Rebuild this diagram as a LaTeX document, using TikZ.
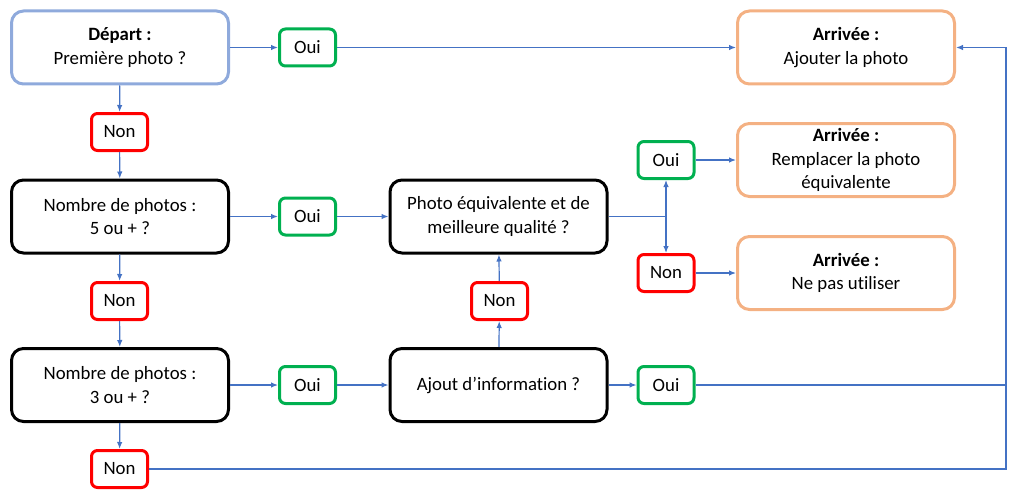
\documentclass[tikz,border=0pt]{standalone}
\usepackage{fontspec}
\setmainfont{Carlito}[Ligatures=NoCommon]
\usetikzlibrary{arrows.meta}
\definecolor{lblue}{HTML}{8FAADC}
\definecolor{conn}{HTML}{4472C4}
\definecolor{ogreen}{HTML}{00B050}
\definecolor{ored}{HTML}{FF0000}
\definecolor{orng}{HTML}{F4B183}
\begin{document}
\begin{tikzpicture}[x=1pt,y=-1pt,
  box/.style={draw, line width=3pt, rounded corners=12pt, minimum width=217pt, minimum height=73pt, align=center, inner sep=0pt, font=\fontsize{18.8}{23.5}\selectfont},
  startbox/.style={box, draw=lblue},
  qbox/.style={box, draw=black},
  endbox/.style={box, draw=orng},
  small/.style={draw, line width=3pt, rounded corners=6pt, minimum width=56pt, minimum height=37pt, inner sep=0pt, font=\fontsize{18.8}{23.5}\selectfont},
  yes/.style={small, draw=ogreen},
  no/.style={small, draw=ored},
  plain/.style={draw=conn, line width=1.2pt},
  arr/.style={plain, -{Latex[length=7pt,width=5.5pt]}}
]
\useasboundingbox (0,0) rectangle (1010,495);
\node[startbox] (dep) at (120,47.5) {\textbf{Départ :}\\Première photo ?};
\node[yes] (oui1) at (307.5,47.5) {Oui};
\node[endbox] (arr1) at (846,47.5) {\textbf{Arrivée :}\\Ajouter la photo};
\node[no] (non1) at (119.5,132) {Non};
\node[qbox] (nb5) at (120,216.5) {Nombre de photos :\\5 ou + ?};
\node[yes] (oui2) at (307.5,216.5) {Oui};
\node[qbox] (peq) at (498.5,216.5) {Photo équivalente et de\\meilleure qualité ?};
\node[yes] (oui3) at (666,160) {Oui};
\node[no] (non3) at (666,273) {Non};
\node[endbox] (arr2) at (846,160) {\textbf{Arrivée :}\\Remplacer la photo\\équivalente};
\node[endbox] (arr3) at (846,273) {\textbf{Arrivée :}\\Ne pas utiliser};
\node[no] (non2) at (119.5,301) {Non};
\node[qbox] (nb3) at (120,385) {Nombre de photos :\\3 ou + ?};
\node[yes] (oui4) at (307.5,385) {Oui};
\node[qbox] (ajout) at (498.5,385) {Ajout d’information ?};
\node[no] (non4) at (499.5,301) {Non};
\node[yes] (oui5) at (666,385) {Oui};
\node[no] (non5) at (119.5,469) {Non};

\draw[arr] (dep) -- (oui1);
\draw[arr] (oui1) -- (arr1);
\draw[arr] (dep) -- (non1);
\draw[arr] (non1) -- (nb5);
\draw[arr] (nb5) -- (oui2);
\draw[arr] (oui2) -- (peq);
\draw[arr] (nb5) -- (non2);
\draw[arr] (non2) -- (nb3);
\draw[arr] (nb3) -- (oui4);
\draw[arr] (oui4) -- (ajout);
\draw[arr] (nb3) -- (non5);
\draw[arr] (ajout) -- (non4);
\draw[arr] (non4) -- (peq);
\draw[arr] (ajout) -- (oui5);
\coordinate (j) at (oui3 |- peq.east);
\draw[plain] (peq.east) -- (j);
\draw[arr] (j) -- (oui3);
\draw[arr] (j) -- (non3);
\draw[arr] (oui3) -- (arr2);
\draw[arr] (non3) -- (arr3);
\coordinate (rt) at (1006,47.5);
\coordinate (rb) at (1006,469);
\draw[plain] (oui5.east) -- (oui5.east -| rb);
\draw[plain] (non5.east) -- (rb) -- (rt);
\draw[arr] (rt) -- (arr1.east);
\end{tikzpicture}
\end{document}
